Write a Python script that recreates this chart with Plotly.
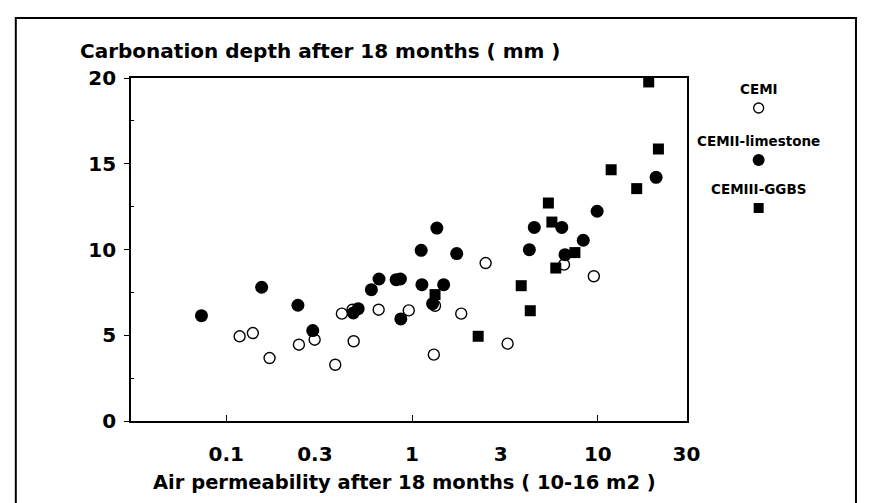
import plotly.graph_objects as go

# ---- data ----
cem1_x = [0.118, 0.139, 0.171, 0.246, 0.299, 0.386, 0.419, 0.478, 0.485, 0.661,
          0.96, 1.31, 1.33, 1.84, 2.49, 3.27, 6.58, 9.52]
cem1_y = [4.94, 5.13, 3.67, 4.45, 4.74, 3.28, 6.26, 6.49, 4.65, 6.49,
          6.45, 3.87, 6.72, 6.26, 9.21, 4.51, 9.12, 8.44]

cem2_x = [0.0735, 0.155, 0.243, 0.292, 0.483, 0.513, 0.604, 0.664, 0.821, 0.866,
          0.870, 1.12, 1.13, 1.29, 1.36, 1.48, 1.74, 4.28, 4.55, 6.40,
          6.66, 8.35, 9.92, 20.6]
cem2_y = [6.14, 7.80, 6.75, 5.27, 6.30, 6.55, 7.66, 8.28, 8.24, 8.28,
          5.95, 9.95, 7.95, 6.84, 11.25, 7.95, 9.76, 9.99, 11.29, 11.29,
          9.70, 10.54, 12.23, 14.21]

cem3_x = [1.33, 2.27, 3.87, 4.33, 5.42, 5.66, 5.94, 7.53, 11.8, 16.2, 18.8, 21.2]
cem3_y = [7.37, 4.94, 7.89, 6.43, 12.71, 11.60, 8.92, 9.82, 14.65, 13.55, 19.77, 15.86]

series_names = ["CEMI", "CEMII-limestone", "CEMIII-GGBS"]
legend_y = [18.25, 15.22, 12.42]

x_tick_vals = [0.1, 0.3, 1, 3, 10, 30]
x_tick_text = ["0.1", "0.3", "1", "3", "10", "30"]
x_tick_marks = [0.1, 1, 10]
y_tick_vals = [0, 5, 10, 15, 20]
y_minor_vals = [2.5, 7.5, 12.5, 17.5]

y_title = "Carbonation depth after 18 months ( mm )"
x_title = "Air permeability after 18 months ( 10-16 m2 )"

# ---- figure ----
W, H = 869, 503
ML, MR, MT, MB = 123, 20, 70, 90
plot_w = W - ML - MR
plot_h = H - MT - MB
main_dom = (683 - ML) / plot_w

FONT = "DejaVu Sans, Verdana, sans-serif"

fig = go.Figure()

fig.add_trace(go.Scatter(x=cem1_x, y=cem1_y, mode="markers", name=series_names[0],
                         marker=dict(symbol="circle", size=11, color="white",
                                     line=dict(color="black", width=1.4)),
                         cliponaxis=False))
fig.add_trace(go.Scatter(x=cem2_x, y=cem2_y, mode="markers", name=series_names[1],
                         marker=dict(symbol="circle", size=13, color="black",
                                     line=dict(width=0)),
                         cliponaxis=False))
fig.add_trace(go.Scatter(x=cem3_x, y=cem3_y, mode="markers", name=series_names[2],
                         marker=dict(symbol="square", size=11, color="black",
                                     line=dict(width=0)),
                         cliponaxis=False))

# legend markers on an auxiliary hidden axis
leg_styles = [
    dict(symbol="circle", size=10, color="white", line=dict(color="black", width=1.3)),
    dict(symbol="circle", size=12, color="black", line=dict(width=0)),
    dict(symbol="square", size=10, color="black", line=dict(width=0)),
]
for i in range(3):
    fig.add_trace(go.Scatter(x=[0.5], y=[legend_y[i]], mode="markers",
                             marker=leg_styles[i], xaxis="x2", yaxis="y2",
                             showlegend=False, cliponaxis=False))

leg_x_px = 755
leg_dom_c = (leg_x_px - ML) / plot_w
fig.update_layout(
    width=W, height=H,
    margin=dict(l=ML, r=MR, t=MT, b=MB, pad=0),
    paper_bgcolor="white", plot_bgcolor="white",
    showlegend=False,
    font=dict(family=FONT, size=20, color="black", weight="bold"),
    title=dict(text=y_title, xref="container", yref="container",
               x=72 / W, xanchor="left", y=1 - 43 / H, yanchor="middle",
               font=dict(family=FONT, size=20, color="black", weight="bold")),
    xaxis=dict(type="log", domain=[0, main_dom],
               range=[-1.513, 1.481],
               tickmode="array", tickvals=x_tick_vals, ticktext=x_tick_text,
               ticks="", showgrid=False, zeroline=False,
               showline=True, linecolor="black", linewidth=1.6, mirror=True,
               ticklabelstandoff=14,
               tickfont=dict(family=FONT, size=20, color="black", weight="bold"),
               minor=dict(tickmode="array", tickvals=x_tick_marks, ticks="inside",
                          ticklen=6, tickwidth=1.4, tickcolor="black", showgrid=False)),
    yaxis=dict(range=[0, 20], tickmode="array", tickvals=y_tick_vals,
               ticks="outside", ticklen=5, tickwidth=1.4, tickcolor="black",
               showgrid=False, zeroline=False,
               showline=True, linecolor="black", linewidth=1.6, mirror=True,
               ticklabelstandoff=4,
               tickfont=dict(family=FONT, size=20, color="black", weight="bold"),
               minor=dict(tickmode="array", tickvals=y_minor_vals, ticks="inside",
                          ticklen=3, tickwidth=1, tickcolor="black", showgrid=False)),
    xaxis2=dict(domain=[leg_dom_c - 0.05, leg_dom_c + 0.05], range=[0, 1],
                visible=False, anchor="y2"),
    yaxis2=dict(domain=[0, 1], range=[0, 20], visible=False, anchor="x2"),
)

# x-axis title
fig.add_annotation(text=x_title, xref="paper", yref="paper",
                   x=(398 - ML) / plot_w, y=(H - MB - 474) / plot_h,
                   xanchor="center", yanchor="middle", showarrow=False,
                   font=dict(family=FONT, size=19.5, color="black", weight="bold"))

# legend labels
leg_text_px = [81, 133, 181]
for name, ty in zip(series_names, leg_text_px):
    fig.add_annotation(text=name, xref="paper", yref="paper",
                       x=leg_dom_c, y=(H - MB - ty) / plot_h,
                       xanchor="center", yanchor="middle", showarrow=False,
                       font=dict(family=FONT, size=13.5, color="black", weight="bold"))

# outer frame of the figure
fig.add_shape(type="rect", xref="paper", yref="paper",
              x0=(7 - ML) / plot_w, x1=(853 - ML) / plot_w,
              y0=(H - MB - 530) / plot_h, y1=(H - MB - 10) / plot_h,
              line=dict(color="black", width=2), fillcolor="rgba(0,0,0,0)",
              layer="below")

fig.write_html("out.html")
